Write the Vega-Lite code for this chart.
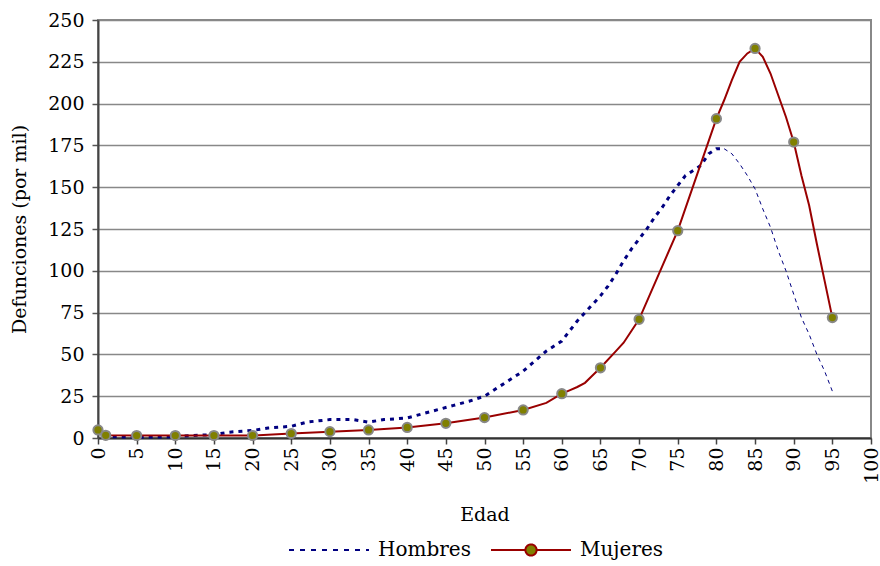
{
  "$schema": "https://vega.github.io/schema/vega-lite/v6.json",
  "autosize": "none",
  "width": 773,
  "height": 418,
  "padding": {"left": 98, "top": 20, "right": 9, "bottom": 128},
  "background": "white",
  "config": {
    "view": {"stroke": "#888888", "strokeWidth": 2},
    "axis": {"labelFont": "DejaVu Serif", "titleFont": "DejaVu Serif", "labelFontSize": 19, "titleFontSize": 19, "titleFontWeight": "normal", "labelColor": "black", "titleColor": "black"}
  },
  "data": {"values": [
    {"sexo": "Hombres", "edad": 0, "tasa": 5.5},
    {"sexo": "Hombres", "edad": 1, "tasa": 0.8},
    {"sexo": "Hombres", "edad": 5, "tasa": 0.5},
    {"sexo": "Hombres", "edad": 10, "tasa": 0.7},
    {"sexo": "Hombres", "edad": 12, "tasa": 1.5},
    {"sexo": "Hombres", "edad": 15, "tasa": 2},
    {"sexo": "Hombres", "edad": 17, "tasa": 3.5},
    {"sexo": "Hombres", "edad": 20, "tasa": 4.5},
    {"sexo": "Hombres", "edad": 22, "tasa": 6},
    {"sexo": "Hombres", "edad": 25, "tasa": 7},
    {"sexo": "Hombres", "edad": 27, "tasa": 9.5},
    {"sexo": "Hombres", "edad": 30, "tasa": 11},
    {"sexo": "Hombres", "edad": 33, "tasa": 11},
    {"sexo": "Hombres", "edad": 35, "tasa": 9.5},
    {"sexo": "Hombres", "edad": 37, "tasa": 11},
    {"sexo": "Hombres", "edad": 40, "tasa": 12},
    {"sexo": "Hombres", "edad": 42, "tasa": 14.5},
    {"sexo": "Hombres", "edad": 44, "tasa": 17},
    {"sexo": "Hombres", "edad": 46, "tasa": 19.5},
    {"sexo": "Hombres", "edad": 48, "tasa": 22},
    {"sexo": "Hombres", "edad": 50, "tasa": 25},
    {"sexo": "Hombres", "edad": 52, "tasa": 31},
    {"sexo": "Hombres", "edad": 54, "tasa": 37},
    {"sexo": "Hombres", "edad": 55, "tasa": 40},
    {"sexo": "Hombres", "edad": 56, "tasa": 44},
    {"sexo": "Hombres", "edad": 58, "tasa": 52},
    {"sexo": "Hombres", "edad": 60, "tasa": 58},
    {"sexo": "Hombres", "edad": 61, "tasa": 64},
    {"sexo": "Hombres", "edad": 62, "tasa": 70},
    {"sexo": "Hombres", "edad": 64, "tasa": 80},
    {"sexo": "Hombres", "edad": 65, "tasa": 85},
    {"sexo": "Hombres", "edad": 66, "tasa": 91},
    {"sexo": "Hombres", "edad": 67, "tasa": 98},
    {"sexo": "Hombres", "edad": 68, "tasa": 106},
    {"sexo": "Hombres", "edad": 69, "tasa": 113},
    {"sexo": "Hombres", "edad": 70, "tasa": 119},
    {"sexo": "Hombres", "edad": 71, "tasa": 125},
    {"sexo": "Hombres", "edad": 72, "tasa": 132},
    {"sexo": "Hombres", "edad": 73, "tasa": 138},
    {"sexo": "Hombres", "edad": 74, "tasa": 145},
    {"sexo": "Hombres", "edad": 75, "tasa": 151},
    {"sexo": "Hombres", "edad": 76, "tasa": 157},
    {"sexo": "Hombres", "edad": 77, "tasa": 160},
    {"sexo": "Hombres", "edad": 78, "tasa": 163},
    {"sexo": "Hombres", "edad": 79, "tasa": 170},
    {"sexo": "Hombres", "edad": 80, "tasa": 173},
    {"sexo": "Hombres", "edad": 81, "tasa": 173},
    {"sexo": "Hombres", "edad": 82, "tasa": 170},
    {"sexo": "Hombres", "edad": 83, "tasa": 164},
    {"sexo": "Hombres", "edad": 84, "tasa": 157},
    {"sexo": "Hombres", "edad": 85, "tasa": 149},
    {"sexo": "Hombres", "edad": 86, "tasa": 137},
    {"sexo": "Hombres", "edad": 87, "tasa": 126},
    {"sexo": "Hombres", "edad": 88, "tasa": 112},
    {"sexo": "Hombres", "edad": 89, "tasa": 100},
    {"sexo": "Hombres", "edad": 90, "tasa": 86},
    {"sexo": "Hombres", "edad": 91, "tasa": 72},
    {"sexo": "Hombres", "edad": 92, "tasa": 62},
    {"sexo": "Hombres", "edad": 93, "tasa": 50},
    {"sexo": "Hombres", "edad": 94, "tasa": 40},
    {"sexo": "Hombres", "edad": 95, "tasa": 28},
    {"sexo": "Mujeres", "edad": 0, "tasa": 4.8},
    {"sexo": "Mujeres", "edad": 1, "tasa": 1.6},
    {"sexo": "Mujeres", "edad": 5, "tasa": 1.5},
    {"sexo": "Mujeres", "edad": 10, "tasa": 1.5},
    {"sexo": "Mujeres", "edad": 15, "tasa": 1.5},
    {"sexo": "Mujeres", "edad": 20, "tasa": 1.5},
    {"sexo": "Mujeres", "edad": 25, "tasa": 2.7},
    {"sexo": "Mujeres", "edad": 30, "tasa": 3.8},
    {"sexo": "Mujeres", "edad": 35, "tasa": 4.8},
    {"sexo": "Mujeres", "edad": 40, "tasa": 6.3},
    {"sexo": "Mujeres", "edad": 45, "tasa": 8.8},
    {"sexo": "Mujeres", "edad": 50, "tasa": 12.2},
    {"sexo": "Mujeres", "edad": 55, "tasa": 16.8},
    {"sexo": "Mujeres", "edad": 58, "tasa": 21},
    {"sexo": "Mujeres", "edad": 60, "tasa": 26.5},
    {"sexo": "Mujeres", "edad": 61, "tasa": 28.5},
    {"sexo": "Mujeres", "edad": 62, "tasa": 30.5},
    {"sexo": "Mujeres", "edad": 63, "tasa": 33},
    {"sexo": "Mujeres", "edad": 64, "tasa": 37.5},
    {"sexo": "Mujeres", "edad": 65, "tasa": 42},
    {"sexo": "Mujeres", "edad": 67, "tasa": 52},
    {"sexo": "Mujeres", "edad": 68, "tasa": 57},
    {"sexo": "Mujeres", "edad": 69, "tasa": 64},
    {"sexo": "Mujeres", "edad": 70, "tasa": 71},
    {"sexo": "Mujeres", "edad": 75, "tasa": 124},
    {"sexo": "Mujeres", "edad": 80, "tasa": 191},
    {"sexo": "Mujeres", "edad": 81, "tasa": 202},
    {"sexo": "Mujeres", "edad": 82, "tasa": 214},
    {"sexo": "Mujeres", "edad": 83, "tasa": 225},
    {"sexo": "Mujeres", "edad": 84, "tasa": 230},
    {"sexo": "Mujeres", "edad": 85, "tasa": 233},
    {"sexo": "Mujeres", "edad": 86, "tasa": 228},
    {"sexo": "Mujeres", "edad": 87, "tasa": 218},
    {"sexo": "Mujeres", "edad": 88, "tasa": 205},
    {"sexo": "Mujeres", "edad": 89, "tasa": 192},
    {"sexo": "Mujeres", "edad": 90, "tasa": 177},
    {"sexo": "Mujeres", "edad": 91, "tasa": 157},
    {"sexo": "Mujeres", "edad": 92, "tasa": 139},
    {"sexo": "Mujeres", "edad": 93, "tasa": 116},
    {"sexo": "Mujeres", "edad": 94, "tasa": 94},
    {"sexo": "Mujeres", "edad": 95, "tasa": 72}
  ]},
  "encoding": {
    "x": {"field": "edad", "type": "quantitative",
      "scale": {"domain": [0, 100], "nice": false, "zero": false},
      "axis": {"title": "Edad", "values": [0,5,10,15,20,25,30,35,40,45,50,55,60,65,70,75,80,85,90,95,100],
        "labelAngle": -90, "labelPadding": 3, "tickSize": 6, "tickColor": "#444444", "tickWidth": 1.5,
        "domainColor": "#333333", "domainWidth": 2, "grid": false, "titlePadding": 22}},
    "y": {"field": "tasa", "type": "quantitative",
      "scale": {"domain": [0, 250], "nice": false},
      "axis": {"title": "Defunciones (por mil)", "values": [0,25,50,75,100,125,150,175,200,225,250],
        "tickSize": 6, "tickColor": "#555555", "tickWidth": 1.5, "labelPadding": 8,
        "domainColor": "#444444", "domainWidth": 2,
        "grid": true, "gridColor": "#888888", "gridWidth": 1.5, "titlePadding": 18}}
  },
  "layer": [
    {
      "transform": [{"filter": "datum.sexo === 'Hombres' && datum.edad <= 81"}],
      "mark": {"type": "line", "strokeWidth": 3, "strokeDash": [4, 5]},
      "encoding": {
        "color": {"field": "sexo", "type": "nominal",
          "scale": {"domain": ["Hombres", "Mujeres"], "range": ["#000080", "#990000"]},
          "legend": {
            "orient": "none", "legendX": 190, "legendY": 489, "direction": "horizontal", "title": null,
            "symbolSize": 6400, "symbolStrokeWidth": 2, "labelFont": "DejaVu Serif", "labelFontSize": 20,
            "labelColor": "black", "labelOffset": 8, "columnPadding": 16,
            "encode": {"symbols": {"update": {
              "shape": {"signal": "datum.value === 'Mujeres' ? 'M-1,0H-0.14M0.14,0H1M-0.14,0A0.14,0.14 0 1,1 0.14,0A0.14,0.14 0 1,1 -0.14,0Z' : 'M-1,0H1'"},
              "fill": {"signal": "datum.value === 'Mujeres' ? '#808000' : 'transparent'"},
              "strokeDash": {"signal": "datum.value === 'Mujeres' ? [1, 0] : [5, 6]"}
            }}}
          }}
      }
    },
    {
      "transform": [{"filter": "datum.sexo === 'Hombres' && datum.edad >= 81"}],
      "mark": {"type": "line", "strokeWidth": 1, "strokeDash": [4, 4], "color": "#000080"},
      "encoding": {}
    },
    {
      "transform": [{"filter": "datum.sexo === 'Mujeres'"}],
      "mark": {"type": "line", "strokeWidth": 2},
      "encoding": {"color": {"field": "sexo", "type": "nominal"}}
    },
    {
      "transform": [{"filter": "datum.sexo === 'Mujeres' && (datum.edad % 5 === 0 || datum.edad === 1)"}],
      "mark": {"type": "point", "filled": true, "fill": "#808000", "stroke": "#888888", "strokeWidth": 2, "size": 85, "opacity": 1},
      "encoding": {}
    }
  ]
}
